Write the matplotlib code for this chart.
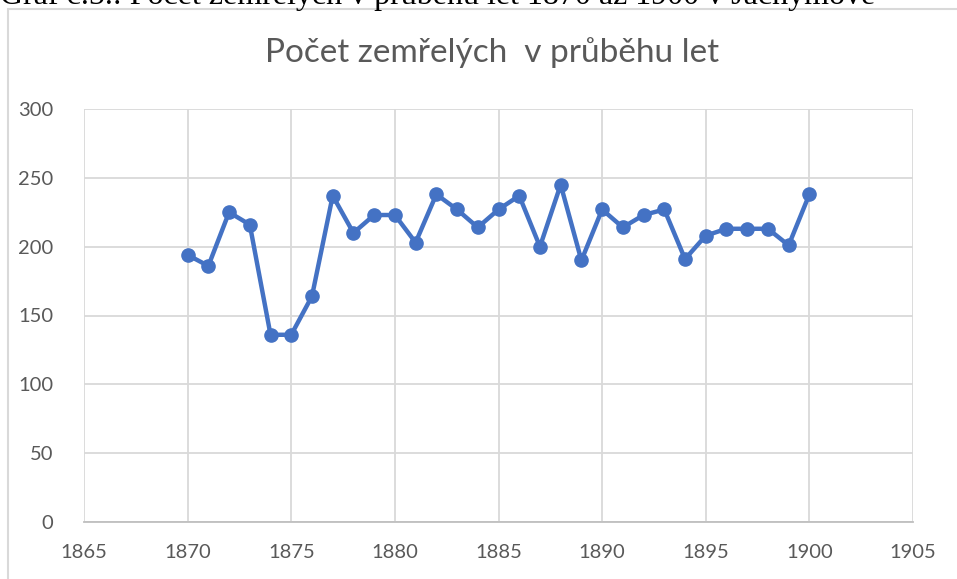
import matplotlib
matplotlib.use("Agg")
import matplotlib.pyplot as plt
from matplotlib.patches import Rectangle

years = list(range(1870, 1901))
deaths = [194, 186, 225, 216, 136, 136, 164, 237, 210, 223, 223, 203, 238, 227, 214,
          227, 237, 200, 245, 190, 227, 214, 223, 227, 191, 208, 213, 213, 213, 201, 238]
x_ticks = list(range(1865, 1906, 5))
y_ticks = list(range(0, 301, 50))
title = "Počet zemřelých  v průběhu let"
caption = "Graf č.5.: Počet zemřelých v průběhu let 1870 až 1900 v Jáchymově"

W, H = 957, 579
fig = plt.figure(figsize=(W / 100, H / 100), dpi=100)
fig.patch.set_facecolor("white")

# chart border
fig.patches.append(Rectangle((8 / W, -0.01), 1.02, 1 - 9 / H + 0.01, transform=fig.transFigure,
                             fill=False, edgecolor="#d9d9d9", linewidth=1.5))

# cut-off caption at the very top
fig.text(0 / W, 1 - 4 / H, caption, family="Liberation Serif", fontsize=23,
         color="black", ha="left", va="baseline")

ax = fig.add_axes([84 / W, 1 - 522 / H, (913 - 84) / W, (522 - 109) / H])
ax.plot(years, deaths, color="#4472c4", linewidth=3.2, marker="o", markersize=9.5,
        solid_joinstyle="round")
ax.set_xlim(1865, 1905)
ax.set_ylim(0, 300)
ax.set_xticks(x_ticks)
ax.set_yticks(y_ticks)
ax.grid(True, color="#d9d9d9", linewidth=1.3)
ax.set_axisbelow(True)
for s in ["top", "right", "left"]:
    ax.spines[s].set_visible(False)
ax.spines["bottom"].set_color("#bfbfbf")
ax.spines["bottom"].set_linewidth(1.3)
ax.tick_params(length=0, labelsize=14.5, labelcolor="#595959", pad=16)
for lab in ax.get_xticklabels() + ax.get_yticklabels():
    lab.set_family("Lato")
ax.tick_params(axis="y", pad=22)

fig.text(492 / W, 1 - 53 / H, title, family="Lato", fontsize=24, color="#595959",
         ha="center", va="center")

fig.savefig("out.png", dpi=100, facecolor="white")
